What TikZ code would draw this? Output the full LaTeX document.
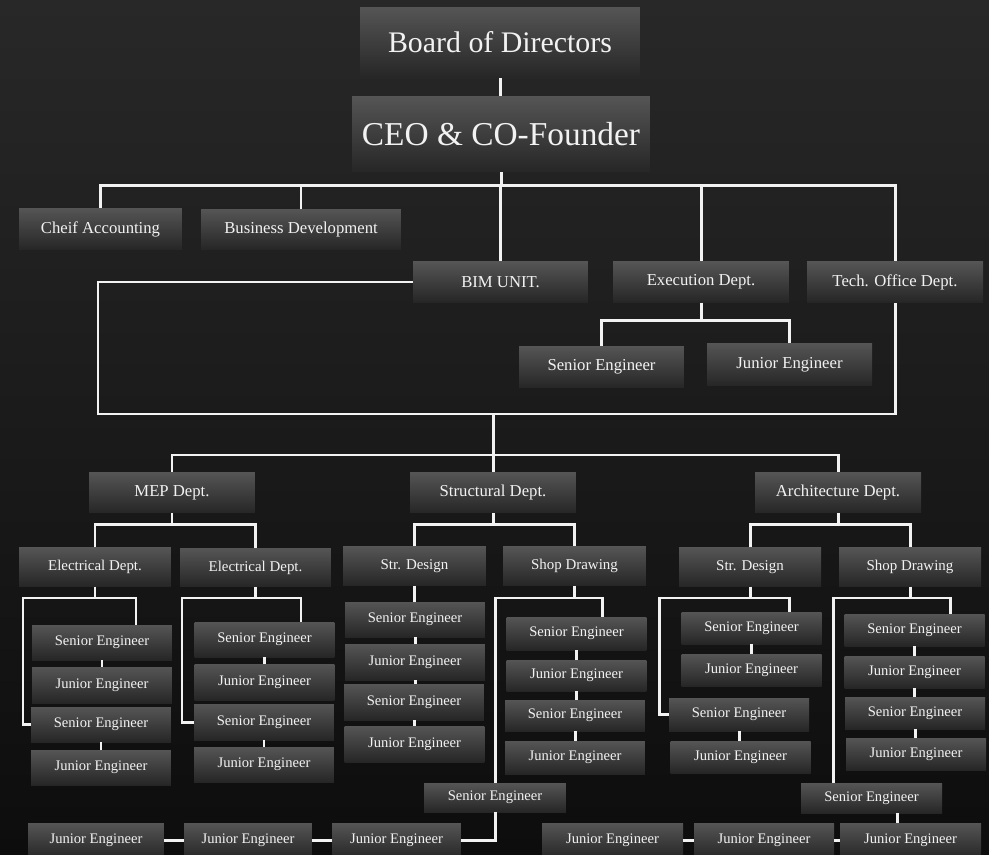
\documentclass[tikz,border=0pt]{standalone}
\usepackage{fontspec}
\setmainfont{Liberation Serif}
\usetikzlibrary{positioning}
\definecolor{BgTop}{HTML}{282828}
\definecolor{BgMid}{HTML}{121212}
\definecolor{BgBot}{HTML}{0D0D0D}
\definecolor{BoxTop}{HTML}{555555}
\definecolor{BoxBot}{HTML}{262626}
\definecolor{LabelWhite}{HTML}{F2F2F2}
\definecolor{LinkWhite}{HTML}{F2F2F2}
\tikzset{
  orgbox/.style={top color=BoxTop,bottom color=BoxBot,draw=none,
    text=LabelWhite,align=center,inner sep=1pt},
  topbox/.style={orgbox,minimum width=5.6cm,minimum height=1.42cm,
    font=\fontsize{17}{20}\selectfont},
  ceobox/.style={orgbox,minimum width=5.96cm,minimum height=1.52cm,
    font=\fontsize{19}{22}\selectfont},
  unitbox/.style={orgbox,minimum width=3.5cm,minimum height=0.81cm,
    font=\fontsize{9.5}{11}\selectfont},
  deptbox/.style={orgbox,minimum width=3.32cm,minimum height=0.82cm,
    font=\fontsize{9.5}{11}\selectfont},
  subbox/.style={orgbox,minimum width=2.86cm,minimum height=0.77cm,
    font=\fontsize{8.5}{10}\selectfont},
  engbox/.style={orgbox,minimum width=2.8cm,minimum height=0.68cm,
    font=\fontsize{8.3}{10}\selectfont},
  link/.style={draw=LinkWhite,line width=1.7pt},
}
\begin{document}
\begin{tikzpicture}[x=0.02cm,y=-0.02cm]
  \clip (0,0) rectangle (989,854);
  \shade[top color=BgTop,middle color=BgMid,bottom color=BgBot] (0,0) rectangle (989,854);
  % top of the chart
  \node[topbox] (bod) at (500,42.5) {Board of Directors};
  \node[ceobox] (ceo) at (501,134) {CEO \& CO-Founder};
  \node[unitbox,minimum width=3.26cm,minimum height=0.84cm] (acc) at (100.5,229) {Cheif Accounting};
  \node[unitbox,minimum width=4cm] (bus) at (301,229.5) {Business Development};
  \node[unitbox] (bim) at (500.5,282) {BIM UNIT.};
  \node[unitbox,minimum width=3.52cm] (exe) at (701,282) {Execution Dept.};
  \node[unitbox,minimum width=3.52cm] (tec) at (895,282) {Tech. Office Dept.};
  \node[unitbox,minimum width=3.3cm,minimum height=0.84cm] (exs) at (601.5,367) {Senior Engineer};
  \node[unitbox,minimum width=3.3cm,minimum height=0.86cm] (exj) at (789.5,364.5) {Junior Engineer};
  % departments
  \node[deptbox] (mep) at (172,492.5) {MEP Dept.};
  \node[deptbox] (str) at (493,492.5) {Structural Dept.};
  \node[deptbox] (arc) at (838,492.5) {Architecture Dept.};
  \node[subbox,minimum width=3.04cm] (ele1) at (95,567) {Electrical Dept.};
  \node[subbox,minimum width=3.02cm] (ele2) at (255.5,567.5) {Electrical Dept.};
  \node[subbox] (sd1) at (414.5,566) {Str. Design};
  \node[subbox] (sh1) at (574.5,566) {Shop Drawing};
  \node[subbox,minimum width=2.84cm] (sd2) at (750,567) {Str. Design};
  \node[subbox,minimum width=2.84cm] (sh2) at (910,567) {Shop Drawing};
  % engineers, column by column
  \node[engbox,minimum height=0.7cm] (seA1) at (102,642.5) {Senior Engineer};
  \node[engbox,minimum height=0.72cm] (jeA1) at (102,685) {Junior Engineer};
  \node[engbox,minimum height=0.7cm] (seA2) at (101,724.5) {Senior Engineer};
  \node[engbox,minimum height=0.7cm] (jeA2) at (101,767.5) {Junior Engineer};
  \node[engbox,minimum height=0.7cm] (seB1) at (264.5,639.5) {Senior Engineer};
  \node[engbox,minimum height=0.72cm] (jeB1) at (264.5,682) {Junior Engineer};
  \node[engbox,minimum height=0.72cm] (seB2) at (264,722) {Senior Engineer};
  \node[engbox,minimum height=0.7cm] (jeB2) at (264,764.5) {Junior Engineer};
  \node[engbox,minimum height=0.7cm] (seC1) at (415,619.5) {Senior Engineer};
  \node[engbox,minimum height=0.72cm] (jeC1) at (415,662) {Junior Engineer};
  \node[engbox,minimum height=0.72cm] (seC2) at (414,702) {Senior Engineer};
  \node[engbox,minimum height=0.72cm] (jeC2) at (414.5,744) {Junior Engineer};
  \node[engbox,minimum height=0.66cm] (seD1) at (576.5,633.5) {Senior Engineer};
  \node[engbox,minimum height=0.62cm] (jeD1) at (576.5,675.5) {Junior Engineer};
  \node[engbox,minimum height=0.62cm] (seD2) at (575,715.5) {Senior Engineer};
  \node[engbox,minimum height=0.66cm] (jeD2) at (575,757.5) {Junior Engineer};
  \node[engbox,minimum height=0.64cm] (seE1) at (751.5,628) {Senior Engineer};
  \node[engbox,minimum height=0.64cm] (jeE1) at (751.5,670) {Junior Engineer};
  \node[engbox,minimum height=0.66cm] (seE2) at (739,714.5) {Senior Engineer};
  \node[engbox,minimum height=0.64cm] (jeE2) at (740.5,757) {Junior Engineer};
  \node[engbox,minimum height=0.64cm] (seF1) at (914.5,630) {Senior Engineer};
  \node[engbox,minimum height=0.64cm] (jeF1) at (914.5,672) {Junior Engineer};
  \node[engbox,minimum height=0.64cm] (seF2) at (915,713) {Senior Engineer};
  \node[engbox,minimum height=0.64cm] (jeF2) at (916,754) {Junior Engineer};
  % bottom rows
  \node[engbox,minimum width=2.84cm,minimum height=0.58cm] (seG) at (495,797.5) {Senior Engineer};
  \node[engbox,minimum width=2.82cm,minimum height=0.6cm] (seH) at (871.5,798) {Senior Engineer};
  \node[engbox,minimum width=2.72cm,minimum height=0.7cm] (jeG1) at (96,840.5) {Junior Engineer};
  \node[engbox,minimum width=2.56cm,minimum height=0.7cm] (jeG2) at (248,840.5) {Junior Engineer};
  \node[engbox,minimum width=2.58cm,minimum height=0.7cm] (jeG3) at (396.5,840.5) {Junior Engineer};
  \node[engbox,minimum width=2.82cm,minimum height=0.7cm] (jeH1) at (612.5,840.5) {Junior Engineer};
  \node[engbox,minimum width=2.8cm,minimum height=0.7cm] (jeH2) at (764,840.5) {Junior Engineer};
  \node[engbox,minimum width=2.82cm,minimum height=0.7cm] (jeH3) at (910.5,840.5) {Junior Engineer};
  % connectors
  \draw[link] (bod.south) -- (bod.south |- ceo.north);
  \draw[link] (ceo.south) -- ++(0,13) coordinate (ceoBus);
  \foreach \n in {acc,bus,bim,exe,tec}
    \draw[link] (ceoBus) -| (\n.north);
  \draw[link] (exe.south) -- ++(0,18) coordinate (exeBus);
  \foreach \n in {exs,exj}
    \draw[link] (exeBus) -| (\n.north);
  \coordinate (bimL) at (98,414);
  \draw[link] (bim.west) -| (bimL) -| (tec.south);
  \draw[link] (str.north |- bimL) -- (str.north);
  \coordinate (deptBus) at (493,455);
  \draw[link] (mep.north) |- (deptBus) -| (arc.north);
  \foreach \p/\a/\b in {mep/ele1/ele2,str/sd1/sh1,arc/sd2/sh2}{
    \draw[link] (\p.south) -- ++(0,11) coordinate (\p Bus);
    \draw[link] (\a.north) |- (\p Bus) -| (\b.north);
  }
  % brackets below the sections
  \coordinate (e1L) at (23,598);  \coordinate (e1R) at (136,598);
  \draw[link] (ele1.south) -- (ele1.south |- e1L);
  \draw[link] (seA2.west) -| (e1L) -- (e1R) -- (e1R |- seA1.north);
  \coordinate (e2L) at (182,598); \coordinate (e2R) at (301,598);
  \draw[link] (ele2.south) -- (ele2.south |- e2L);
  \draw[link] (seB2.west) -| (e2L) -- (e2R) -- (e2R |- seB1.north);
  \draw[link] (sd1.south) -- (sd1.south |- seC1.north);
  \coordinate (h1L) at (494,598); \coordinate (h1R) at (602,598);
  \draw[link] (sh1.south) -- (sh1.south |- h1L);
  \draw[link] (seG.north) -- (seG.north |- h1L) -- (h1R) -- (h1R |- seD1.north);
  \coordinate (d2L) at (659,598); \coordinate (d2R) at (789,598);
  \draw[link] (sd2.south) -- (sd2.south |- d2L);
  \draw[link] (seE2.west) -| (d2L) -- (d2R) -- (d2R |- seE1.north);
  \coordinate (h2L) at (833,598); \coordinate (h2R) at (950,598);
  \draw[link] (sh2.south) -- (sh2.south |- h2L);
  \draw[link] (seH.north -| h2L) -- (h2L) -- (h2R) -- (h2R |- seF1.north);
  \foreach \a/\b in {seA1/jeA1,seA2/jeA2,seB1/jeB1,seB2/jeB2,seC1/jeC1,jeC1/seC2,seC2/jeC2,
      seD1/jeD1,jeD1/seD2,seD2/jeD2,seE1/jeE1,seE2/jeE2,seF1/jeF1,jeF1/seF2,seF2/jeF2}
    \draw[link] (\a.south) -- (\a.south |- \b.north);
  \draw[link] (seG.south) |- (jeG3.east);
  \draw[link] (jeG3.west) -- (jeG2.east);
  \draw[link] (jeG2.west) -- (jeG1.east);
  \draw[link] ([xshift=0.52cm]seH.south) -- ([xshift=0.52cm]seH.south |- jeH3.north);
  \draw[link] (jeH3.west) -- (jeH2.east);
  \draw[link] (jeH2.west) -- (jeH1.east);
\end{tikzpicture}
\end{document}
